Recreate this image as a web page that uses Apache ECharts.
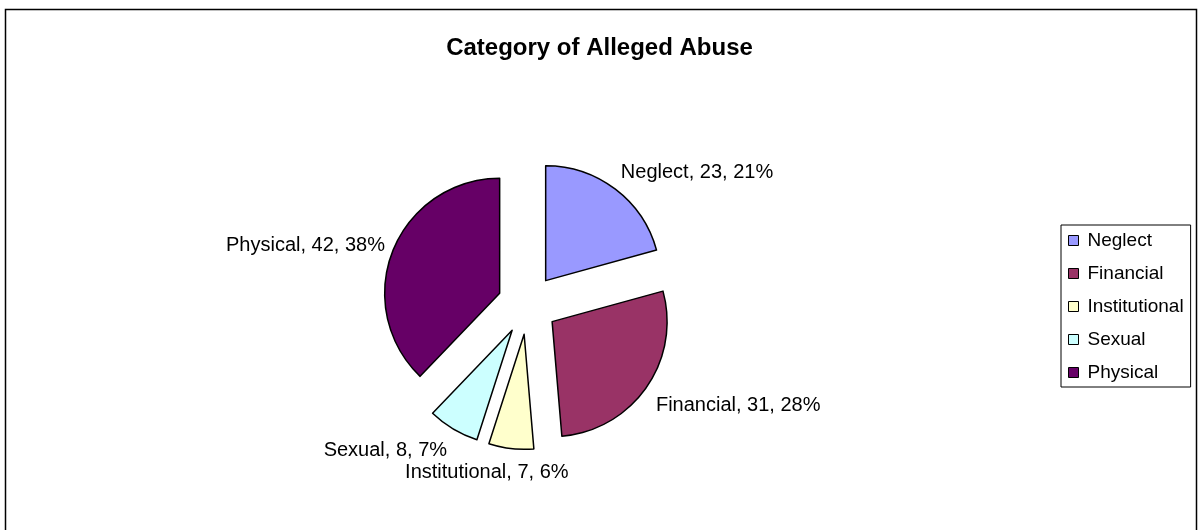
<!DOCTYPE html>
<html>
<head>
<meta charset="utf-8">
<script src="https://cdn.jsdelivr.net/npm/echarts@6/dist/echarts.min.js"></script>
<style>
html,body{margin:0;padding:0;background:#fff;}
#chart{width:1199px;height:530px;}
</style>
</head>
<body>
<div id="chart"></div>
<script>
const categories = ['Neglect', 'Financial', 'Institutional', 'Sexual', 'Physical'];
const values = [23, 31, 7, 8, 42];
const colors = ['#9999FF', '#993366', '#FFFFCC', '#CCFFFF', '#660066'];
const titleText = 'Category of Alleged Abuse';

// label nudges (styling only)
const labelShift = [[-8, -6], [-7, 10], [64, 10], [6, 9], [10, 0]];

const FONT = '"Liberation Sans", Arial, sans-serif';
const chart = echarts.init(document.getElementById('chart'));

const total = values.reduce((a, b) => a + b, 0);

chart.setOption({
  animation: false,
  backgroundColor: '#fff',
  title: {
    text: titleText,
    left: 'center',
    top: 31,
    textStyle: { fontFamily: FONT, fontSize: 24, fontWeight: 'bold', color: '#000' }
  },
  graphic: [{
    type: 'rect',
    shape: { x: 5.5, y: 9.5, width: 1191, height: 540 },
    style: { fill: 'none', stroke: '#000', lineWidth: 1.5 },
    silent: true, z: 100
  }],
  legend: {
    orient: 'vertical',
    left: 1061,
    top: 225,
    data: categories,
    icon: 'rect',
    itemWidth: 10,
    itemHeight: 10,
    itemGap: 14,
    padding: [6, 7, 5, 7],
    borderColor: '#000',
    borderWidth: 1,
    selectedMode: false,
    itemStyle: { borderColor: '#000', borderWidth: 1 },
    textStyle: { fontFamily: FONT, fontSize: 19, color: '#000', lineHeight: 18, padding: [0, 0, 0, 4] }
  },
  series: [{
    type: 'pie',
    center: [527.5, 304.5],
    radius: 115,
    startAngle: 90,
    clockwise: true,
    selectedMode: 'multiple',
    selectedOffset: 30,
    avoidLabelOverlap: false,
    emphasis: { disabled: true },
    itemStyle: { borderColor: '#000', borderWidth: 1.5 },
    label: {
      show: true,
      position: 'outside',
      fontFamily: FONT,
      fontSize: 20,
      color: '#000',
      formatter: (p) => p.name + ', ' + p.value + ', ' + Math.round(p.value / total * 100) + '%'
    },
    labelLine: { show: false, length: 14, length2: 0 },
    labelLayout: (p) => ({
      dx: labelShift[p.dataIndex][0],
      dy: labelShift[p.dataIndex][1],
      hideOverlap: false
    }),
    data: categories.map((c, i) => ({
      name: c,
      value: values[i],
      selected: true,
      itemStyle: { color: colors[i] }
    }))
  }]
});
</script>
</body>
</html>
